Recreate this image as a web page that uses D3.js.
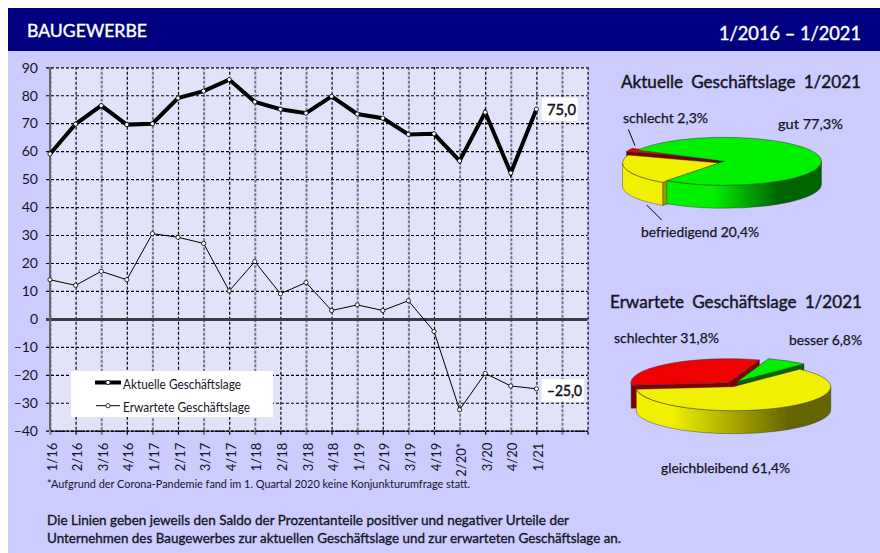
<!DOCTYPE html>
<html><head><meta charset="utf-8">
<script src="https://cdn.jsdelivr.net/npm/d3@7"></script>
<style>
html,body{margin:0;padding:0;background:#fff}
svg{display:block}
text{font-family:Lato,"Noto Sans",sans-serif;fill:#15151f}
</style></head><body><svg id="c" width="880" height="553"></svg>
<script>
// ---- data ----
const quarters=["1/16","2/16","3/16","4/16","1/17","2/17","3/17","4/17","1/18","2/18","3/18","4/18","1/19","2/19","3/19","4/19","2/20*","3/20","4/20","1/21"];
const emptySlots=[" ","  "];
const aktuell=[59,69.7,76.3,69.5,69.8,79,81.5,85.6,77.6,75,73.6,79.6,73.3,71.8,66,66.2,56.5,73.9,52.2,75];
const erwartet=[14,12,17,14,30.5,29.2,27,10,20.5,9,13,3,5,3,6.5,-4.5,-32.5,-19.5,-24,-25];
const yTicks=[90,80,70,60,50,40,30,20,10,0,-10,-20,-30,-40];
const pie1Labels=["befriedigend","schlecht","gut"];
const pie1Values=[20.4,2.3,77.3];
const pie2Labels=["schlechter","besser","gleichbleibend"];
const pie2Values=[31.8,6.8,61.4];

const svg=d3.select("#c");
const defs=svg.append("defs");
const deg=Math.PI/180;

// text helper: fits each string to the width it has in the reference
function label(s,x1,x2,y,size,heavy,fill,wordGap){
  const c=fill||"#15151f";
  const t=svg.append("text").attr("x",x1).attr("y",y).attr("font-size",size)
    .attr("textLength",x2-x1).attr("lengthAdjust","spacingAndGlyphs").text(s).style("fill",c);
  if(heavy)t.attr("stroke",c).attr("stroke-width",heavy);
  if(wordGap)t.style("word-spacing",wordGap+"px");
  return t;
}

// ---- frame ----
svg.append("rect").attr("x",8).attr("y",8).attr("width",872).attr("height",545).attr("fill","#ccccff");
svg.append("rect").attr("x",8).attr("y",8).attr("width",872).attr("height",43).attr("fill","#000080");
label("BAUGEWERBE",27,147,36.7,18,.4,"#fff");
label("1/2016 – 1/2021",719,861,39.5,19,.4,"#fff");

// ---- line chart ----
const L=50,R=587.6,T=67.3,B=430.7;
const x=d3.scalePoint().domain(quarters.concat(emptySlots)).range([L,R]);
const y=d3.scaleLinear().domain([-40,90]).range([B,T]);

const pat=defs.append("pattern").attr("id","dither").attr("width",2).attr("height",2).attr("patternUnits","userSpaceOnUse");
pat.append("rect").attr("width",2).attr("height",2).attr("fill","#e8e8ff");
pat.append("rect").attr("width",1).attr("height",1).attr("fill","#dcdcf4");
pat.append("rect").attr("x",1).attr("y",1).attr("width",1).attr("height",1).attr("fill","#dcdcf4");
svg.append("rect").attr("x",L).attr("y",T).attr("width",R-L).attr("height",B-T).attr("fill","url(#dither)");

const gx=svg.append("g").attr("transform",`translate(0,${B})`)
  .call(d3.axisBottom(x).tickSize(-(B-T)).tickSizeOuter(0).tickPadding(6));
gx.select(".domain").attr("stroke","#000").attr("stroke-width",1.5).attr("stroke-dasharray","3 1");
gx.selectAll(".tick line").each(function(d,i){
  d3.select(this).attr("y2",-(B-T)).attr("y1",4)
    .attr("stroke",i%2?"#000":"#77778a").attr("stroke-width",i%2?1.2:2)
    .attr("stroke-dasharray",i%2?"3 2":"3 1.5");
});
gx.selectAll(".tick text").attr("font-size",13).attr("text-anchor","end")
  .attr("transform","translate(6,12) rotate(-90)").attr("x",0).attr("y",0).attr("dy",0);
gx.selectAll(".tick text").attr("font-family","Lato").style("fill","#15151f");

const gy=svg.append("g").attr("transform",`translate(${L},0)`)
  .call(d3.axisLeft(y).tickValues(yTicks).tickSize(R-L).tickSizeOuter(0).tickPadding(0)
    .tickFormat(d=>d<0?"–"+(-d):d));
gy.select(".domain").remove();
gy.selectAll(".tick line").attr("x1",-4).attr("x2",R-L).attr("stroke","#000").attr("stroke-width",1.2).attr("stroke-dasharray","3 2");
gy.selectAll(".tick text").attr("x",-12).attr("dy","0.34em").attr("font-size",14).attr("font-family","Lato").style("fill","#15151f");
gy.selectAll(".tick").filter(d=>d===0).select("line").attr("stroke","#3c3c44").attr("stroke-width",3).attr("stroke-dasharray",null);
// axis line on the left
svg.append("line").attr("x1",L).attr("x2",L).attr("y1",T).attr("y2",B).attr("stroke","#66667a").attr("stroke-width",2);

const line=d3.line().x((d,i)=>x(quarters[i])).y(d=>y(d));
function series(vals,w){
  svg.append("path").datum(vals).attr("d",line).attr("fill","none").attr("stroke","#000").attr("stroke-width",w).attr("stroke-linejoin","miter");
  svg.selectAll(null).data(vals).join("circle").attr("cx",(d,i)=>x(quarters[i])).attr("cy",d=>y(d))
    .attr("r",2.1).attr("fill","#fff").attr("stroke","#000").attr("stroke-width",.8);
}
series(erwartet,1);
series(aktuell,4);

// value boxes
svg.append("rect").attr("x",541.7).attr("y",97.7).attr("width",36).attr("height",23.3).attr("fill","#fff");
label("75,0",547,576,114.5,14.5,.5);
svg.append("rect").attr("x",541.7).attr("y",379).attr("width",42.3).attr("height",22.7).attr("fill","#fff");
label("–25,0",547,582,396,14.5,.5);

// legend
svg.append("rect").attr("x",71).attr("y",371).attr("width",202).attr("height",46).attr("fill","#fff");
svg.append("line").attr("x1",95).attr("x2",121).attr("y1",382.5).attr("y2",382.5).attr("stroke","#000").attr("stroke-width",4);
svg.append("circle").attr("cx",108).attr("cy",382.5).attr("r",2.1).attr("fill","#fff").attr("stroke","#000").attr("stroke-width",.8);
label("Aktuelle Geschäftslage",123,241,389,13.5);
svg.append("line").attr("x1",96).attr("x2",120).attr("y1",405.7).attr("y2",405.7).attr("stroke","#000").attr("stroke-width",1);
svg.append("circle").attr("cx",108).attr("cy",405.7).attr("r",2.1).attr("fill","#fff").attr("stroke","#000").attr("stroke-width",.8);
label("Erwartete Geschäftslage",123,250,411.5,13.5);

// notes
label("*Aufgrund der Corona-Pandemie  fand im 1. Quartal 2020 keine Konjunkturumfrage statt.",47,470,488,11.5);
label("Die Linien geben jeweils den Saldo der Prozentanteile positiver und negativer Urteile der",47,569,525,13.5,.35);
label("Unternehmen des Baugewerbes zur aktuellen Geschäftslage und zur erwarteten Geschäftslage an.",47,621,543,13.5,.35);

// ---- 3D pies ----
function grad(id,c1,c2,a,b){
  const g=defs.append("linearGradient").attr("id",id);
  g.append("stop").attr("offset",a).attr("stop-color",c1);
  g.append("stop").attr("offset",b).attr("stop-color",c2);
}
grad("gGreen","#00f000","#006400","30%","72%");
grad("gYellow","#f0f000","#666600","18%","78%");

const RX=97.5,RY=24,DEPTH=23;
const pt=(c,a)=>[c[0]+RX*Math.sin(a),c[1]-RY*Math.cos(a)];
function drawPie(values,startDeg,styles){
  const arcs=d3.pie().sort(null).value(d=>d).startAngle(startDeg*deg).endAngle((startDeg+360)*deg)(values);
  const unit=d3.arc().innerRadius(0).outerRadius(1);
  const face=(g,c,side,ang)=>{
    const p=pt(c,ang);
    g.append("path").attr("d",`M${c[0]},${c[1]}L${p[0]},${p[1]}L${p[0]},${p[1]+DEPTH}L${c[0]},${c[1]+DEPTH}Z`)
      .attr("fill",side).attr("stroke","#222").attr("stroke-width",.4);
  };
  // a start face that lies behind the exploded slices goes down first
  styles.order.forEach(k=>{
    const s=styles.slices[k];
    if(s.startFaceBehind)face(svg.append("g"),s.c,s.side,arcs[k].startAngle);
  });
  styles.order.forEach(k=>{
    const a=arcs[k],s=styles.slices[k],c=s.c;
    const g=svg.append("g");
    if(Math.sin(a.startAngle)<0&&!s.startFaceBehind)face(g,c,s.side,a.startAngle);
    if(Math.sin(a.endAngle)>0)face(g,c,s.side,a.endAngle);
    // outer wall: visible only on the front half of the ellipse
    for(const turn of [0,2*Math.PI]){
      const lo=Math.max(a.startAngle,Math.PI/2+turn),hi=Math.min(a.endAngle,1.5*Math.PI+turn);
      if(hi>lo){
        const p=pt(c,lo),q=pt(c,hi);
        g.append("path").attr("d",`M${p[0]},${p[1]}A${RX},${RY} 0 0 1 ${q[0]},${q[1]}L${q[0]},${q[1]+DEPTH}A${RX},${RY} 0 0 0 ${p[0]},${p[1]+DEPTH}Z`)
          .attr("fill",s.wall).attr("stroke","#333").attr("stroke-width",.4);
      }
    }
    g.append("path").attr("d",unit(a)).attr("transform",`translate(${c[0]},${c[1]}) scale(${RX},${RY})`)
      .attr("fill",s.top).attr("stroke","#333").attr("stroke-width",.5).attr("vector-effect","non-scaling-stroke");
  });
}
drawPie(pie1Values,216,{order:[1,0,2],slices:[
  {c:[720,163],top:"#f0f000",side:"#999900",wall:"#f0f000"},
  {c:[718.5,159.5],top:"#f00000",side:"#700000",wall:"#800000"},
  {c:[724,161.3],top:"#00f000",side:"#004800",wall:"url(#gGreen)",startFaceBehind:true}
]});
drawPie(pie2Values,264,{order:[0,1,2],slices:[
  {c:[728.5,382.7],top:"#f00000",side:"#800000",wall:"#800000"},
  {c:[737.5,381.5],top:"#00f000",side:"#006400",wall:"#006400"},
  {c:[733.3,386.7],top:"#f0f000",side:"#666600",wall:"url(#gYellow)"}
]});

// pie titles and labels
label("Aktuelle Geschäftslage 1/2021",621,861,88,18,.45,null,4);
label("Erwartete Geschäftslage 1/2021",610,862,308,18,.45,null,4);
const fmt=v=>d3.format(".1f")(v).replace(".",",")+"%";
label(pie1Labels[1]+" "+fmt(pie1Values[1]),623,708,123,13.5,.25);
label(pie1Labels[2]+" "+fmt(pie1Values[2]),778,843,129,13.5,.25);
label(pie1Labels[0]+" "+fmt(pie1Values[0]),641,759,237,13.5,.25);
label(pie2Labels[0]+" "+fmt(pie2Values[0]),614,719,343,13.5,.25);
label(pie2Labels[1]+" "+fmt(pie2Values[1]),789,862,345,13.5,.25);
label(pie2Labels[2]+" "+fmt(pie2Values[2]),661,790,473,13.5,.25);
svg.append("line").attr("x1",628.3).attr("y1",129.3).attr("x2",635).attr("y2",145.7).attr("stroke","#000");
svg.append("line").attr("x1",646.7).attr("y1",205).attr("x2",661.7).attr("y2",220).attr("stroke","#000");
</script></body></html>
